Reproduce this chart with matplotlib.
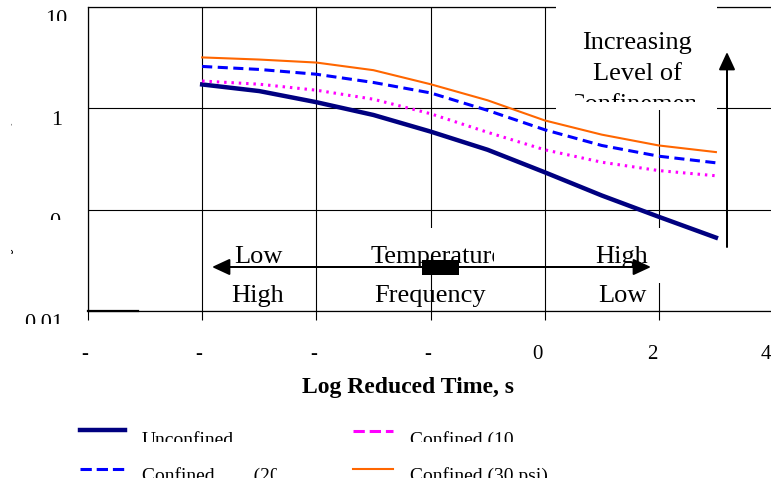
import matplotlib
matplotlib.use("Agg")
import matplotlib.pyplot as plt
import matplotlib.transforms as mtransforms
from matplotlib.transforms import Bbox
from matplotlib.lines import Line2D
from matplotlib.patches import Rectangle, FancyArrowPatch
from matplotlib.ticker import NullLocator

plt.rcParams["font.family"] = ["Liberation Serif", "DejaVu Serif"]

W, H = 771, 486

# reduced time (log s) and modulus for each confinement level
log_time = [-6, -5, -4, -3, -2, -1, 0, 1, 2, 3]
unconfined = [1.72, 1.48, 1.15, 0.86, 0.59, 0.39, 0.234, 0.138, 0.085, 0.053]
confined_10 = [1.86, 1.73, 1.51, 1.23, 0.885, 0.58, 0.39, 0.294, 0.243, 0.216]
confined_20 = [2.59, 2.42, 2.17, 1.80, 1.42, 0.955, 0.615, 0.43, 0.337, 0.29]
confined_30 = [3.18, 3.03, 2.83, 2.38, 1.73, 1.20, 0.76, 0.55, 0.43, 0.37]

x_ticks = [-8, -6, -4, -2, 0, 2, 4]
x_tick_labels = ["-", "-", "-", "-", "0", "2", "4"]
y_ticks = [0.01, 0.1, 1, 10]
y_tick_labels = ["0.01", "0", "1", "10"]


def fx(x):
    return x / W


def fy(y):
    return 1 - y / H


def clip(artist, x0=0, y0=0, x1=W, y1=H):
    # clip in pixel coords measured from the top-left corner
    artist.set_clip_box(Bbox.from_extents(x0, H - y1, x1, H - y0))
    artist.set_clip_on(True)


fig = plt.figure(figsize=(W / 100, H / 100), dpi=100)
ax = fig.add_axes([fx(88), fy(311), (773 - 88) / W, (311 - 7) / H])

l_unc, = ax.plot(log_time, unconfined, color="#000080", lw=3.2, zorder=3)
l_10, = ax.plot(log_time, confined_10, color="#FF00FF", lw=2.2,
                linestyle=(0, (0.8, 1.6)), zorder=3)
l_20, = ax.plot(log_time, confined_20, color="#0000FF", lw=2.2,
                linestyle=(0, (3.3, 1.8)), zorder=3)
l_30, = ax.plot(log_time, confined_30, color="#FF6600", lw=1.5, zorder=3)

ax.set_yscale("log")
ax.set_xlim(-8, 4)
ax.set_ylim(0.01, 10)
ax.yaxis.set_minor_locator(NullLocator())
ax.set_yticks(y_ticks)
ax.tick_params(axis="y", length=0, labelleft=False)
ax.set_xticks(x_ticks)
ax.set_xticklabels(x_tick_labels)
ax.tick_params(axis="x", direction="out", length=6.5, width=0.8,
               labelsize=15, pad=18)
ax.grid(True, color="black", lw=0.8)
ax.set_axisbelow(True)
for side in ["left", "bottom", "top"]:
    ax.spines[side].set_linewidth(0.9)
ax.spines["right"].set_visible(False)

for lbl in ax.get_xticklabels():
    dx = -3 if lbl.get_text() == "-" else -7
    lbl.set_transform(lbl.get_transform()
                      + mtransforms.ScaledTranslation(dx / 100, 0, fig.dpi_scale_trans))

# y labels sit a little below their gridlines and are cut off at the bottom
y_clip = {"0.01": 324, "0": 220, "1": None, "10": 21}
y_dx = {"0.01": -25, "0": -28, "1": -26, "10": -21}
for v, s in zip(y_ticks, y_tick_labels):
    off = mtransforms.ScaledTranslation(y_dx[s] / 100, -17 / 100,
                                        fig.dpi_scale_trans)
    t = ax.text(0, v, s, transform=ax.get_yaxis_transform() + off,
                ha="right", va="baseline", fontsize=16, clip_on=False)
    if y_clip[s] is not None:
        clip(t, y1=y_clip[s])

# short heavier stroke on the bottom axis
fig.add_artist(Line2D([fx(88), fx(138)], [fy(311), fy(311)],
                      color="black", lw=1.6, transform=fig.transFigure))

# rotated axis title, only a thin strip of it shows
t = fig.text(fx(6), fy(174), "Dynamic Modulus, GPa", rotation=90,
             ha="center", va="center", fontsize=13, fontweight="bold")
clip(t, x0=11, x1=16)

fig.text(fx(408), fy(393), "Log Reduced Time, s", ha="center",
         va="baseline", fontsize=17, fontweight="bold")

# white text boxes
for x0, y0, x1, y1 in [(556, 0, 717, 110), (365, 228, 495, 258),
                       (585, 228, 665, 283)]:
    fig.add_artist(Rectangle((fx(x0), fy(y1)), (x1 - x0) / W, (y1 - y0) / H,
                             transform=fig.transFigure, facecolor="white",
                             edgecolor="none", zorder=1))

t = fig.text(fx(637), fy(32), "Increasing\nLevel of\nConfinement",
             ha="center", va="top", ma="center", fontsize=19,
             linespacing=1.52, zorder=2)
clip(t, x0=575, x1=695, y1=102)

# time-temperature-frequency arrow
fig.add_artist(FancyArrowPatch((fx(212), fy(267)), (fx(651), fy(267)),
                               transform=fig.transFigure,
                               arrowstyle="<|-|>,head_length=10.8,head_width=5",
                               mutation_scale=1, lw=1.44, color="black",
                               shrinkA=0, shrinkB=0, zorder=3))
fig.add_artist(Rectangle((fx(422), fy(275)), 37 / W, 15 / H,
                         transform=fig.transFigure, facecolor="black",
                         edgecolor="none", zorder=4))
fig.add_artist(FancyArrowPatch((fx(727), fy(247)), (fx(727), fy(52)),
                               transform=fig.transFigure,
                               arrowstyle="-|>,head_length=10.8,head_width=5",
                               mutation_scale=1, lw=1.44, color="black",
                               shrinkA=0, shrinkB=0, zorder=3))

for x, y, s in [(258, 263, "Low"), (622, 263, "High"),
                (258, 302, "High"), (430, 302, "Frequency"), (622, 302, "Low")]:
    fig.text(fx(x), fy(y), s, ha="center", va="baseline", fontsize=19, zorder=2)
t = fig.text(fx(437), fy(263), "Temperature", ha="center", va="baseline",
             fontsize=19, zorder=2)
clip(t, x1=494)

# legend
legend_rows = [
    (l_unc, "Unconfined", 80, 125, 430, 142, 445, 442, W),
    (l_20, "Confined        (20 psi)", 80, 125, 469, 142, 481, 478, 277),
    (l_10, "Confined (10 psi)", 353, 393, 431, 410, 445, 442, 514),
    (l_30, "Confined (30 psi)", 353, 393, 469, 410, 481, 478, W),
]
for line, label, lx0, lx1, ly, tx, ty, cy, cx in legend_rows:
    fig.add_artist(Line2D([fx(lx0), fx(lx1)], [fy(ly), fy(ly)],
                          transform=fig.transFigure, color=line.get_color(),
                          lw=line.get_linewidth(), linestyle=line.get_linestyle()))
    t = fig.text(fx(tx), fy(ty), label, ha="left", va="baseline", fontsize=14)
    clip(t, x1=cx, y1=cy)

fig.savefig("out.png", dpi=100)
